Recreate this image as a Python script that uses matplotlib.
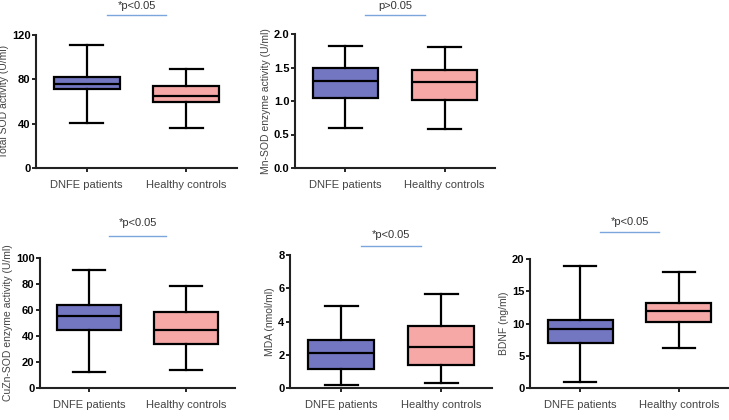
import matplotlib
matplotlib.use('Agg')
import matplotlib.pyplot as plt
import matplotlib.transforms as mtransforms

plt.rcParams['font.family'] = ['Liberation Sans', 'DejaVu Sans']

groups = ['DNFE patients', 'Healthy controls']

# box stats: low whisker, q1, median, q3, high whisker
total_sod = [[40.3, 71.3, 75.8, 81.8, 111.0], [36.0, 59.8, 65.3, 74.0, 89.0]]
mn_sod = [[0.60, 1.05, 1.30, 1.50, 1.82], [0.58, 1.02, 1.28, 1.47, 1.80]]
cuzn_sod = [[12.0, 44.8, 55.4, 63.8, 90.8], [13.8, 34.0, 45.0, 58.7, 78.7]]
mda = [[0.20, 1.14, 2.12, 2.90, 4.96], [0.30, 1.40, 2.46, 3.70, 5.64]]
bdnf = [[0.93, 6.95, 9.2, 10.6, 18.96], [6.18, 10.25, 12.0, 13.2, 17.98]]

ylabels = ['Total SOD activity (U/ml)', 'Mn-SOD enzyme activity (U/ml)',
           'CuZn-SOD enzyme activity (U/ml)', 'MDA (nmol/ml)', 'BDNF (ng/ml)']
pvals = ['*p<0.05', 'p>0.05', '*p<0.05', '*p<0.05', '*p<0.05']
yticks = [[0, 40, 80, 120], [0.0, 0.5, 1.0, 1.5, 2.0], [0, 20, 40, 60, 80, 100],
          [0, 2, 4, 6, 8], [0, 5, 10, 15, 20]]
ytick_fmt = ['{:.0f}', '{:.1f}', '{:.0f}', '{:.0f}', '{:.0f}']
data = [total_sod, mn_sod, cuzn_sod, mda, bdnf]

W, H = 729, 420
# axes boxes in pixels: left, top, right, bottom
boxes_px = [(36, 35, 237, 168), (295, 34, 495, 168), (40, 258, 235, 388),
            (290, 255, 492, 388), (530, 259, 729, 388)]
# p-label line / text heights above the axes top, pixels
p_off = [(20, 29), (19, 28), (22, 35), (9, 20), (27, 37)]

colors = ['#7377c2', '#f6a8a7']

fig = plt.figure(figsize=(W / 100, H / 100), dpi=100)

for i in range(5):
    l, t, r, b = boxes_px[i]
    ax = fig.add_axes([l / W, 1 - b / H, (r - l) / W, (b - t) / H])
    stats = []
    for k, s in enumerate(data[i]):
        stats.append({'whislo': s[0], 'q1': s[1], 'med': s[2], 'q3': s[3],
                      'whishi': s[4], 'fliers': [], 'label': groups[k]})
    bp = ax.bxp(stats, positions=[1, 2], widths=0.66, patch_artist=True,
                showfliers=False,
                boxprops=dict(linewidth=1.6, edgecolor='black'),
                medianprops=dict(color='black', linewidth=1.6),
                whiskerprops=dict(color='black', linewidth=1.6),
                capprops=dict(color='black', linewidth=1.6))
    for patch, c in zip(bp['boxes'], colors):
        patch.set_facecolor(c)
    ax.set_xlim(0.49, 2.51)
    ax.set_ylim(yticks[i][0], yticks[i][-1])
    ax.set_yticks(yticks[i])
    ax.set_yticklabels([ytick_fmt[i].format(v) for v in yticks[i]],
                       fontsize=8, fontweight='bold')
    ax.set_xticks([1, 2])
    ax.set_xticklabels(groups, fontsize=8, color='#444444')
    ax.tick_params(axis='x', length=3, width=1.2, pad=6)
    ax.tick_params(axis='y', length=3, width=1.2, pad=1)
    for side in ['top', 'right']:
        ax.spines[side].set_visible(False)
    for side in ['left', 'bottom']:
        ax.spines[side].set_linewidth(1.5)
        ax.spines[side].set_color('#222222')
    ax.set_ylabel(ylabels[i], fontsize=7.5, color='#444444', labelpad=2)

    hpx = b - t
    trans = mtransforms.blended_transform_factory(ax.transData, ax.transAxes)
    ly = 1 + p_off[i][0] / hpx
    ty = 1 + p_off[i][1] / hpx
    ax.plot([1.2, 1.8], [ly, ly], color='#7aa6dc', linewidth=1.0,
            transform=trans, clip_on=False)
    ax.text(1.5, ty, pvals[i], transform=trans, ha='center', va='center',
            fontsize=8, color='#333333')

fig.savefig('out.png', dpi=100, facecolor='white')
